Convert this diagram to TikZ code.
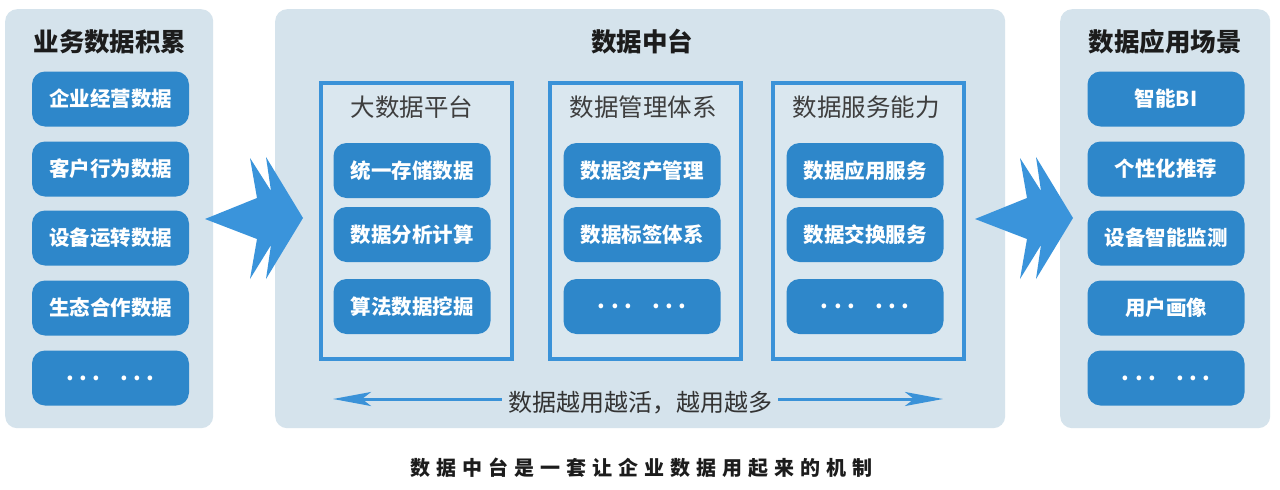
\documentclass[tikz,border=0pt]{standalone}
\usepackage{fontspec}
\setmainfont{Noto Sans CJK SC}
\newfontfamily\capfont[LetterSpace=30]{Noto Sans CJK SC}
\newfontfamily\dotfont[LetterSpace=25]{Noto Sans CJK SC}
\usetikzlibrary{arrows.meta}
\definecolor{panelbg}{HTML}{D5E3EC}
\definecolor{subbg}{HTML}{DAE7EF}
\definecolor{boxblue}{HTML}{2E87CA}
\definecolor{arrowblue}{HTML}{3A94DB}
\definecolor{linkblue}{HTML}{3A92D8}
\definecolor{txtdark}{HTML}{1C1C1C}
\tikzset{
  panel/.style={fill=panelbg, draw=none, rounded corners=12pt, inner sep=0pt, anchor=north west},
  subpanel/.style={fill=subbg, draw=linkblue, line width=4pt, inner sep=0pt, anchor=north west},
  bluebox/.style={fill=boxblue, draw=none, rounded corners=13pt, minimum width=157pt, minimum height=55pt, inner sep=0pt,
    text=white, font=\fontsize{20.5}{23}\selectfont\bfseries},
  dotbox/.style={bluebox, font=\dotfont\fontsize{22}{24}\selectfont\bfseries},
  paneltitle/.style={text=txtdark, font=\fontsize{25.5}{28}\selectfont\bfseries},
  subtitle/.style={text=txtdark!85, font=\fontsize{24.5}{27}\selectfont},
  bigarrow/.style={fill=arrowblue, draw=none},
  flowline/.style={draw=linkblue, line width=3pt, -{Stealth[length=38pt,width=14pt,inset=9pt]}},
}
\newcommand{\fisharrow}[1]{%
  \begin{scope}[xshift=#1]
  \path[bigarrow] (205,219) -- (257,198) -- (250,158) -- (271,191) -- (266,157) -- (303,218)
     -- (266,279) -- (271,245) -- (250,279) -- (257,239) -- cycle;
  \end{scope}}
\begin{document}
\begin{tikzpicture}[x=1pt,y=-1pt]
\useasboundingbox (0,0) rectangle (1280,490);
\fill[white] (0,0) rectangle (1280,490);
% panels
\node[panel, minimum width=208pt, minimum height=419pt] (pl) at (5,9) {};
\node[panel, minimum width=730pt, minimum height=419pt] (pm) at (275,9) {};
\node[panel, minimum width=210pt, minimum height=419pt] (pr) at (1060,9) {};
% titles
\node[paneltitle] (tl) at (110,42) {业务数据积累};
\node[paneltitle] (tm) at (642,42) {数据中台};
\node[paneltitle] (tr) at (1165,42) {数据应用场景};
% left boxes
\node[bluebox] (l1) at (110.5,99) {企业经营数据};
\node[bluebox] (l2) at (110.5,169) {客户行为数据};
\node[bluebox] (l3) at (110.5,238) {设备运转数据};
\node[bluebox] (l4) at (110.5,308) {生态合作数据};
\node[dotbox] (l5) at (110.5,378) {...\hspace{20pt}...};
% right boxes
\node[bluebox] (r1) at (1166,99) {智能BI};
\node[bluebox] (r2) at (1166,169) {个性化推荐};
\node[bluebox] (r3) at (1166,238) {设备智能监测};
\node[bluebox] (r4) at (1166,308) {用户画像};
\node[dotbox] (r5) at (1166,378) {...\hspace{20pt}...};
% sub panels
\node[subpanel, minimum width=191pt, minimum height=276pt] (s1) at (319,81) {};
\node[subpanel, minimum width=191pt, minimum height=276pt] (s2) at (548,81) {};
\node[subpanel, minimum width=191pt, minimum height=276pt] (s3) at (771,81) {};
\node[subtitle] (st1) at (412,107) {大数据平台};
\node[subtitle] (st2) at (643,107) {数据管理体系};
\node[subtitle] (st3) at (866,107) {数据服务能力};
% inner boxes
\node[bluebox] (a1) at (412,170.5) {统一存储数据};
\node[bluebox] (a2) at (412,234.5) {数据分析计算};
\node[bluebox] (a3) at (412,306.5) {算法数据挖掘};
\node[bluebox] (b1) at (642,170.5) {数据资产管理};
\node[bluebox] (b2) at (642,234.5) {数据标签体系};
\node[dotbox] (b3) at (642,306.5) {...\hspace{20pt}...};
\node[bluebox] (c1) at (865,170.5) {数据应用服务};
\node[bluebox] (c2) at (865,234.5) {数据交换服务};
\node[dotbox] (c3) at (865,306.5) {...\hspace{20pt}...};
% double arrow
\node[text=txtdark!90, font=\fontsize{24}{27}\selectfont, inner xsep=6pt] (mid) at (640,403) {数据越用越活，越用越多};
\coordinate (leftend) at (333,399);
\coordinate (rightend) at (943,399);
\draw[flowline] (mid.west |- leftend) -- (leftend);
\draw[flowline] (mid.east |- rightend) -- (rightend);
% big arrows
\fisharrow{0pt}
\fisharrow{770pt}
% caption
\node[text=txtdark, font=\capfont\fontsize{20}{24}\selectfont\bfseries] (cap) at (641,468) {数据中台是一套让企业数据用起来的机制};
\end{tikzpicture}
\end{document}
